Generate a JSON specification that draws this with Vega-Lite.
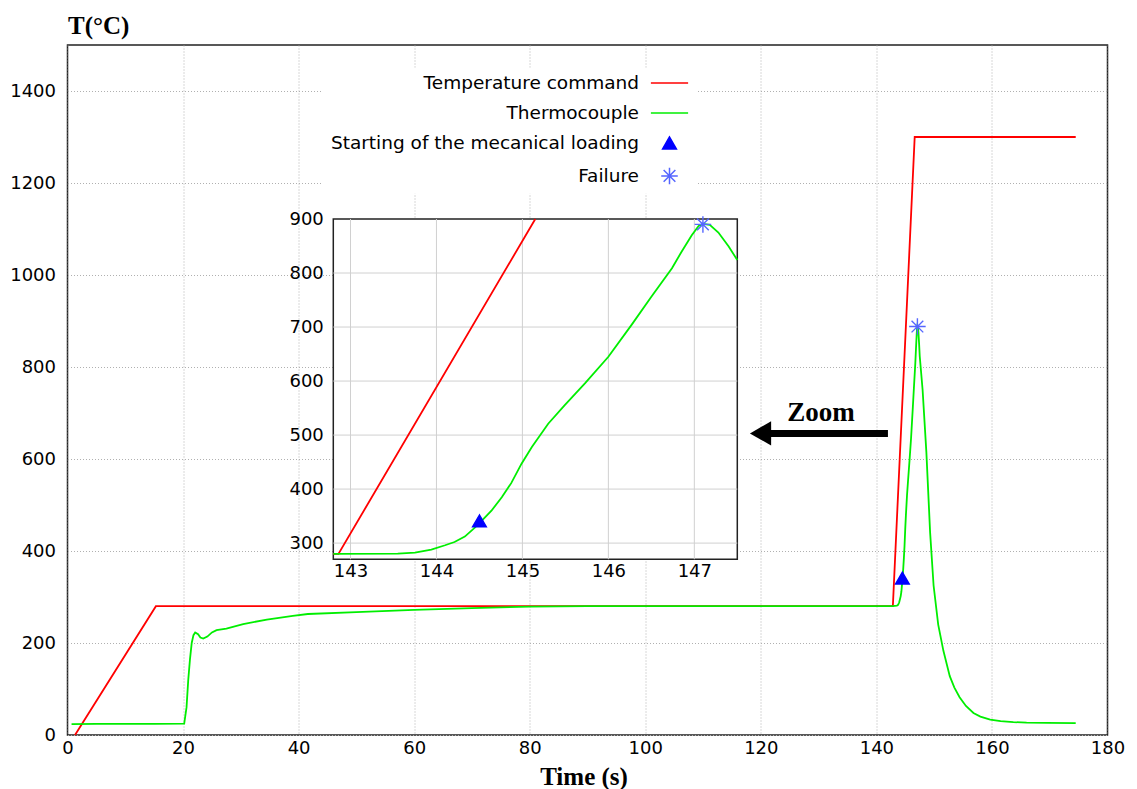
{
  "$schema": "https://vega.github.io/schema/vega-lite/v6.json",
  "width": 1040,
  "height": 690,
  "autosize": {"type": "none"},
  "padding": {"left": 67.5, "top": 45, "right": 29.5, "bottom": 54},
  "background": "white",
  "config": {
    "font": "DejaVu Sans",
    "view": {"stroke": "#222222", "strokeWidth": 1.5},
    "axis": {
      "labelFont": "DejaVu Sans",
      "labelFontSize": 18,
      "labelColor": "#000000",
      "gridColor": "#b0b0b0",
      "gridDash": [1, 2],
      "gridWidth": 1,
      "ticks": false,
      "tickSize": 0,
      "domain": false,
      "labelFlush": false,
      "labelOverlap": false
    },
    "legend": {
      "orient": "none",
      "legendX": 254.5,
      "legendY": 22.7,
      "title": null,
      "direction": "vertical",
      "labelFont": "DejaVu Sans",
      "labelFontSize": 18.5,
      "labelColor": "#000000",
      "labelAlign": "right",
      "labelLimit": 500,
      "labelOffset": -39.75,
      "symbolOffset": 332.25,
      "symbolSize": 190,
      "rowPadding": 11,
      "padding": 6,
      "fillColor": "white",
      "symbolStrokeWidth": 1.5
    }
  },
  "datasets": {
    "main_lines": [
      {"series": "Temperature command", "t": 1.3, "T": 0},
      {"series": "Temperature command", "t": 15.3, "T": 280},
      {"series": "Temperature command", "t": 142.85, "T": 280},
      {"series": "Temperature command", "t": 146.63, "T": 1300},
      {"series": "Temperature command", "t": 174.5, "T": 1300},
      {"series": "Thermocouple", "t": 0.7, "T": 23.5},
      {"series": "Thermocouple", "t": 5, "T": 24},
      {"series": "Thermocouple", "t": 10, "T": 24},
      {"series": "Thermocouple", "t": 15, "T": 24},
      {"series": "Thermocouple", "t": 20.2, "T": 24.5},
      {"series": "Thermocouple", "t": 20.6, "T": 60},
      {"series": "Thermocouple", "t": 20.9, "T": 120},
      {"series": "Thermocouple", "t": 21.2, "T": 165},
      {"series": "Thermocouple", "t": 21.5, "T": 200},
      {"series": "Thermocouple", "t": 21.8, "T": 217},
      {"series": "Thermocouple", "t": 22.1, "T": 223},
      {"series": "Thermocouple", "t": 22.6, "T": 219},
      {"series": "Thermocouple", "t": 23.0, "T": 212},
      {"series": "Thermocouple", "t": 23.5, "T": 209.5},
      {"series": "Thermocouple", "t": 24.2, "T": 214},
      {"series": "Thermocouple", "t": 25.0, "T": 223},
      {"series": "Thermocouple", "t": 25.8, "T": 228},
      {"series": "Thermocouple", "t": 27.5, "T": 231},
      {"series": "Thermocouple", "t": 30.4, "T": 241},
      {"series": "Thermocouple", "t": 34.5, "T": 251},
      {"series": "Thermocouple", "t": 39, "T": 259},
      {"series": "Thermocouple", "t": 41.6, "T": 263},
      {"series": "Thermocouple", "t": 50, "T": 267},
      {"series": "Thermocouple", "t": 60, "T": 272},
      {"series": "Thermocouple", "t": 70, "T": 276},
      {"series": "Thermocouple", "t": 80, "T": 279},
      {"series": "Thermocouple", "t": 90, "T": 280},
      {"series": "Thermocouple", "t": 120, "T": 280},
      {"series": "Thermocouple", "t": 142.8, "T": 280},
      {"series": "Thermocouple", "t": 143.55, "T": 281},
      {"series": "Thermocouple", "t": 143.75, "T": 283},
      {"series": "Thermocouple", "t": 143.94, "T": 288},
      {"series": "Thermocouple", "t": 144.1, "T": 296},
      {"series": "Thermocouple", "t": 144.21, "T": 302},
      {"series": "Thermocouple", "t": 144.33, "T": 312},
      {"series": "Thermocouple", "t": 144.45, "T": 329},
      {"series": "Thermocouple", "t": 144.52, "T": 340},
      {"series": "Thermocouple", "t": 144.64, "T": 360},
      {"series": "Thermocouple", "t": 144.76, "T": 385},
      {"series": "Thermocouple", "t": 144.87, "T": 411},
      {"series": "Thermocouple", "t": 144.99, "T": 447},
      {"series": "Thermocouple", "t": 145.11, "T": 478},
      {"series": "Thermocouple", "t": 145.3, "T": 521},
      {"series": "Thermocouple", "t": 145.49, "T": 555},
      {"series": "Thermocouple", "t": 145.73, "T": 596},
      {"series": "Thermocouple", "t": 146.0, "T": 645},
      {"series": "Thermocouple", "t": 146.27, "T": 704},
      {"series": "Thermocouple", "t": 146.5, "T": 756},
      {"series": "Thermocouple", "t": 146.74, "T": 809},
      {"series": "Thermocouple", "t": 146.85, "T": 839},
      {"series": "Thermocouple", "t": 146.97, "T": 870},
      {"series": "Thermocouple", "t": 147.05, "T": 887},
      {"series": "Thermocouple", "t": 147.1, "T": 891},
      {"series": "Thermocouple", "t": 147.18, "T": 889},
      {"series": "Thermocouple", "t": 147.28, "T": 875},
      {"series": "Thermocouple", "t": 147.4, "T": 849},
      {"series": "Thermocouple", "t": 147.5, "T": 824},
      {"series": "Thermocouple", "t": 148.0, "T": 750},
      {"series": "Thermocouple", "t": 148.65, "T": 615},
      {"series": "Thermocouple", "t": 149.3, "T": 440},
      {"series": "Thermocouple", "t": 149.9, "T": 325},
      {"series": "Thermocouple", "t": 150.7, "T": 240},
      {"series": "Thermocouple", "t": 151.6, "T": 183},
      {"series": "Thermocouple", "t": 152.7, "T": 128},
      {"series": "Thermocouple", "t": 153.5, "T": 103},
      {"series": "Thermocouple", "t": 154.4, "T": 82},
      {"series": "Thermocouple", "t": 155.5, "T": 63},
      {"series": "Thermocouple", "t": 156.8, "T": 48},
      {"series": "Thermocouple", "t": 158, "T": 40},
      {"series": "Thermocouple", "t": 159.7, "T": 33.5},
      {"series": "Thermocouple", "t": 161.5, "T": 30},
      {"series": "Thermocouple", "t": 163.7, "T": 28},
      {"series": "Thermocouple", "t": 166, "T": 27},
      {"series": "Thermocouple", "t": 169.5, "T": 26.5},
      {"series": "Thermocouple", "t": 174.5, "T": 26}
    ],
    "main_points": [
      {"series": "Starting of the mecanical loading", "t": 144.5, "T": 341},
      {"series": "Failure", "t": 147.1, "T": 888}
    ],
    "inset_frame": [
      {"t": 142.8, "t_end": 147.5, "T": 270, "T_end": 900}
    ],
    "inset_grid": [
      {"g": "v143", "t": 143, "T": 270}, {"g": "v143", "t": 143, "T": 900},
      {"g": "v144", "t": 144, "T": 270}, {"g": "v144", "t": 144, "T": 900},
      {"g": "v145", "t": 145, "T": 270}, {"g": "v145", "t": 145, "T": 900},
      {"g": "v146", "t": 146, "T": 270}, {"g": "v146", "t": 146, "T": 900},
      {"g": "v147", "t": 147, "T": 270}, {"g": "v147", "t": 147, "T": 900},
      {"g": "h300", "t": 142.8, "T": 300}, {"g": "h300", "t": 147.5, "T": 300},
      {"g": "h400", "t": 142.8, "T": 400}, {"g": "h400", "t": 147.5, "T": 400},
      {"g": "h500", "t": 142.8, "T": 500}, {"g": "h500", "t": 147.5, "T": 500},
      {"g": "h600", "t": 142.8, "T": 600}, {"g": "h600", "t": 147.5, "T": 600},
      {"g": "h700", "t": 142.8, "T": 700}, {"g": "h700", "t": 147.5, "T": 700},
      {"g": "h800", "t": 142.8, "T": 800}, {"g": "h800", "t": 147.5, "T": 800}
    ],
    "inset_lines": [
      {"series": "Temperature command", "t": 142.8, "T": 280},
      {"series": "Temperature command", "t": 142.86, "T": 280},
      {"series": "Temperature command", "t": 145.15, "T": 900},
      {"series": "Thermocouple", "t": 142.8, "T": 280},
      {"series": "Thermocouple", "t": 143.55, "T": 280.5},
      {"series": "Thermocouple", "t": 143.75, "T": 282.5},
      {"series": "Thermocouple", "t": 143.94, "T": 288},
      {"series": "Thermocouple", "t": 144.1, "T": 296},
      {"series": "Thermocouple", "t": 144.21, "T": 302},
      {"series": "Thermocouple", "t": 144.33, "T": 312},
      {"series": "Thermocouple", "t": 144.45, "T": 329},
      {"series": "Thermocouple", "t": 144.52, "T": 340},
      {"series": "Thermocouple", "t": 144.64, "T": 360},
      {"series": "Thermocouple", "t": 144.76, "T": 385},
      {"series": "Thermocouple", "t": 144.87, "T": 411},
      {"series": "Thermocouple", "t": 144.99, "T": 447},
      {"series": "Thermocouple", "t": 145.11, "T": 478},
      {"series": "Thermocouple", "t": 145.3, "T": 521},
      {"series": "Thermocouple", "t": 145.49, "T": 555},
      {"series": "Thermocouple", "t": 145.73, "T": 596},
      {"series": "Thermocouple", "t": 146.0, "T": 645},
      {"series": "Thermocouple", "t": 146.27, "T": 704},
      {"series": "Thermocouple", "t": 146.5, "T": 756},
      {"series": "Thermocouple", "t": 146.74, "T": 809},
      {"series": "Thermocouple", "t": 146.85, "T": 839},
      {"series": "Thermocouple", "t": 146.97, "T": 870},
      {"series": "Thermocouple", "t": 147.05, "T": 887},
      {"series": "Thermocouple", "t": 147.1, "T": 891},
      {"series": "Thermocouple", "t": 147.18, "T": 889},
      {"series": "Thermocouple", "t": 147.28, "T": 875},
      {"series": "Thermocouple", "t": 147.4, "T": 849},
      {"series": "Thermocouple", "t": 147.5, "T": 824}
    ],
    "inset_points": [
      {"series": "Starting of the mecanical loading", "t": 144.5, "T": 341},
      {"series": "Failure", "t": 147.1, "T": 890}
    ],
    "zoom_label": [
      {"label": "Zoom", "t": 130.4, "T": 683.5}
    ],
    "zoom_arrow": [
      {"t": 121.0, "t_end": 142.0, "T": 655.7}
    ],
    "zoom_arrowhead": [
      {"t": 119.95, "T": 655.7}
    ]
  },
  "layer": [
    {
      "encoding": {
        "x": {
          "field": "t",
          "type": "quantitative",
          "scale": {"domain": [0, 180], "nice": false, "zero": false},
          "axis": {
            "values": [0, 20, 40, 60, 80, 100, 120, 140, 160, 180],
            "grid": true,
            "labelPadding": 4,
            "title": "Time (s)",
            "titleFont": "Liberation Serif",
            "titleFontSize": 25,
            "titleFontWeight": "bold",
            "titleColor": "#000000",
            "titleAlign": "center",
            "titleBaseline": "alphabetic",
            "titleX": 516,
            "titleY": 49.5
          }
        },
        "y": {
          "field": "T",
          "type": "quantitative",
          "scale": {"domain": [0, 1500], "nice": false, "zero": false},
          "axis": {
            "values": [0, 200, 400, 600, 800, 1000, 1200, 1400],
            "format": "d",
            "grid": true,
            "labelPadding": 12,
            "title": "T(°C)",
            "titleFont": "Liberation Serif",
            "titleFontSize": 25,
            "titleFontWeight": "bold",
            "titleColor": "#000000",
            "titleAngle": 0,
            "titleAlign": "left",
            "titleBaseline": "alphabetic",
            "titleX": 0,
            "titleY": -12
          }
        }
      },
      "layer": [
        {
          "data": {"name": "main_lines"},
          "transform": [{"filter": "datum.series === 'Temperature command'"}],
          "mark": {"type": "line", "strokeWidth": 1.8, "color": "#ff0000"}
        },
        {
          "data": {"name": "main_lines"},
          "transform": [{"filter": "datum.series === 'Thermocouple'"}],
          "mark": {"type": "line", "strokeWidth": 1.8, "color": "#00ee00"}
        },
        {
          "data": {"name": "main_points"},
          "mark": {"type": "point", "filled": false, "fill": "#0000ff", "size": 190, "opacity": 1, "strokeWidth": 1.4},
          "encoding": {
            "color": {
              "field": "series",
              "type": "nominal",
              "scale": {
                "domain": ["Temperature command", "Thermocouple", "Starting of the mecanical loading", "Failure"],
                "range": ["#ff0000", "#00ee00", "#0000ff", "#5566ff"]
              }
            },
            "shape": {
              "field": "series",
              "type": "nominal",
              "scale": {
                "domain": ["Temperature command", "Thermocouple", "Starting of the mecanical loading", "Failure"],
                "range": ["M-2.7,0L2.7,0", "M-2.7,0L2.7,0", "triangle-up", "M-1.2,0L1.2,0M0,-1.2L0,1.2M-0.85,-0.85L0.85,0.85M-0.85,0.85L0.85,-0.85"]
              }
            }
          }
        },
        {
          "data": {"name": "zoom_arrow"},
          "mark": {"type": "rule", "strokeWidth": 7, "color": "#000000"},
          "encoding": {
            "x2": {"field": "t_end"}
          }
        },
        {
          "data": {"name": "zoom_arrowhead"},
          "mark": {"type": "point", "shape": "triangle-left", "filled": true, "opacity": 1, "size": 600, "color": "#000000"}
        },
        {
          "data": {"name": "zoom_label"},
          "mark": {"type": "text", "font": "Liberation Serif", "fontWeight": "bold", "fontSize": 27, "align": "center", "baseline": "alphabetic", "color": "#000000"},
          "encoding": {
            "text": {"field": "label"}
          }
        }
      ]
    },
    {
      "layer": [
        {
          "data": {"name": "inset_frame"},
          "mark": {"type": "rect", "fill": "white", "stroke": "#222222", "strokeWidth": 1.5},
          "encoding": {
            "x": {
              "field": "t",
              "type": "quantitative",
              "scale": {"domain": [142.8, 147.5], "range": [265.8, 669.8], "nice": false, "zero": false},
              "axis": {
                "orient": "bottom",
                "offset": -175.7,
                "values": [143, 144, 145, 146, 147],
                "format": "d",
                "grid": false,
                "labelPadding": 3,
                "title": null
              }
            },
            "x2": {"field": "t_end"},
            "y": {
              "field": "T",
              "type": "quantitative",
              "scale": {"domain": [270, 900], "range": [514.3, 174], "nice": false, "zero": false},
              "axis": {
                "orient": "left",
                "offset": -265.8,
                "values": [300, 400, 500, 600, 700, 800, 900],
                "format": "d",
                "grid": false,
                "labelPadding": 10,
                "title": null
              }
            },
            "y2": {"field": "T_end"}
          }
        },
        {
          "data": {"name": "inset_grid"},
          "mark": {"type": "line", "color": "#d0d0d0", "strokeWidth": 1},
          "encoding": {
            "x": {"field": "t", "type": "quantitative"},
            "y": {"field": "T", "type": "quantitative"},
            "detail": {"field": "g", "type": "nominal"},
            "order": {"field": "T", "type": "quantitative"}
          }
        },
        {
          "data": {"name": "inset_lines"},
          "transform": [{"filter": "datum.series === 'Temperature command'"}],
          "mark": {"type": "line", "strokeWidth": 1.8, "color": "#ff0000"},
          "encoding": {
            "x": {"field": "t", "type": "quantitative"},
            "y": {"field": "T", "type": "quantitative"}
          }
        },
        {
          "data": {"name": "inset_lines"},
          "transform": [{"filter": "datum.series === 'Thermocouple'"}],
          "mark": {"type": "line", "strokeWidth": 1.8, "color": "#00ee00"},
          "encoding": {
            "x": {"field": "t", "type": "quantitative"},
            "y": {"field": "T", "type": "quantitative"}
          }
        },
        {
          "data": {"name": "inset_points"},
          "mark": {"type": "point", "filled": false, "fill": "#0000ff", "size": 190, "opacity": 1, "strokeWidth": 1.4},
          "encoding": {
            "x": {"field": "t", "type": "quantitative"},
            "y": {"field": "T", "type": "quantitative"},
            "color": {"field": "series", "type": "nominal"},
            "shape": {"field": "series", "type": "nominal"}
          }
        }
      ]
    }
  ],
  "resolve": {"scale": {"x": "independent", "y": "independent"}}
}
